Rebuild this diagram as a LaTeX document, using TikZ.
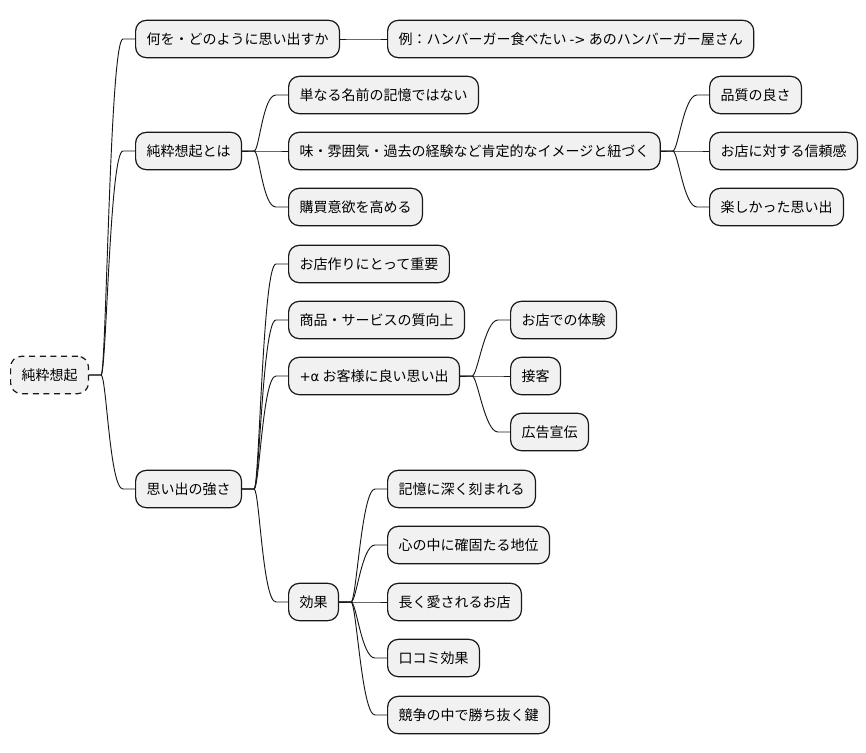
\documentclass[tikz,border=0pt]{standalone}
\usepackage{fontspec}
\setmainfont{Noto Sans CJK JP}
\newfontfamily\jpfont{Noto Sans CJK JP}
\newfontfamily\latfont{DejaVu Sans}
\definecolor{boxfill}{HTML}{F1F1F1}
\definecolor{boxline}{HTML}{181818}
\newcommand\mmlink[2]{\draw[link] (#1.east) -- ++(9pt,0) .. controls +(4pt,0) and +(-10pt,0) .. ([xshift=-9pt]#2.west) -- (#2.west);}
\begin{document}
\begin{tikzpicture}[x=0.75pt,y=-0.75pt,
  mm/.style={draw=boxline, fill=boxfill, rounded corners=8pt, line width=0.9pt,
    minimum height=28pt, inner xsep=8.2pt, inner ysep=0pt, anchor=west,
    font=\jpfont\fontsize{10.5pt}{12pt}\selectfont},
  rootbox/.style={mm, fill=boxfill, dash pattern=on 4.5pt off 3.5pt},
  link/.style={draw=boxline, line width=0.7pt}]
\useasboundingbox (0,0) rectangle (866,752);
\fill[white] (0,0) rectangle (866,752);

\node[rootbox] (root) at (10,375) {純粋想起};

\node[mm] (a) at (135,39) {何を・どのように思い出すか};
\node[mm] (a1) at (387,39) {例：ハンバーガー食べたい {\latfont\fontsize{10pt}{12pt}\selectfont ->} あのハンバーガー屋さん};

\node[mm] (b) at (135,151) {純粋想起とは};
\node[mm] (b1) at (288,95) {単なる名前の記憶ではない};
\node[mm] (b2) at (288,151) {味・雰囲気・過去の経験など肯定的なイメージと紐づく};
\node[mm] (b3) at (288,207) {購買意欲を高める};
\node[mm] (b21) at (709,95) {品質の良さ};
\node[mm] (b22) at (709,151) {お店に対する信頼感};
\node[mm] (b23) at (709,207) {楽しかった思い出};

\node[mm] (c) at (135,489) {思い出の強さ};
\node[mm] (c1) at (288,264) {お店作りにとって重要};
\node[mm] (c2) at (288,320) {商品・サービスの質向上};
\node[mm] (c3) at (288,376) {{\latfont\fontsize{10pt}{12pt}\selectfont +α} お客様に良い思い出};
\node[mm] (c31) at (510,320) {お店での体験};
\node[mm] (c32) at (510,376) {接客};
\node[mm] (c33) at (510,432) {広告宣伝};
\node[mm] (c4) at (288,602) {効果};
\node[mm] (c41) at (387,489) {記憶に深く刻まれる};
\node[mm] (c42) at (387,545) {心の中に確固たる地位};
\node[mm] (c43) at (387,602) {長く愛されるお店};
\node[mm] (c44) at (387,658) {口コミ効果};
\node[mm] (c45) at (387,715) {競争の中で勝ち抜く鍵};

\mmlink{root}{a}
\mmlink{root}{b}
\mmlink{root}{c}
\mmlink{a}{a1}
\mmlink{b}{b1}
\mmlink{b}{b2}
\mmlink{b}{b3}
\mmlink{b2}{b21}
\mmlink{b2}{b22}
\mmlink{b2}{b23}
\mmlink{c}{c1}
\mmlink{c}{c2}
\mmlink{c}{c3}
\mmlink{c}{c4}
\mmlink{c3}{c31}
\mmlink{c3}{c32}
\mmlink{c3}{c33}
\mmlink{c4}{c41}
\mmlink{c4}{c42}
\mmlink{c4}{c43}
\mmlink{c4}{c44}
\mmlink{c4}{c45}
\end{tikzpicture}
\end{document}
